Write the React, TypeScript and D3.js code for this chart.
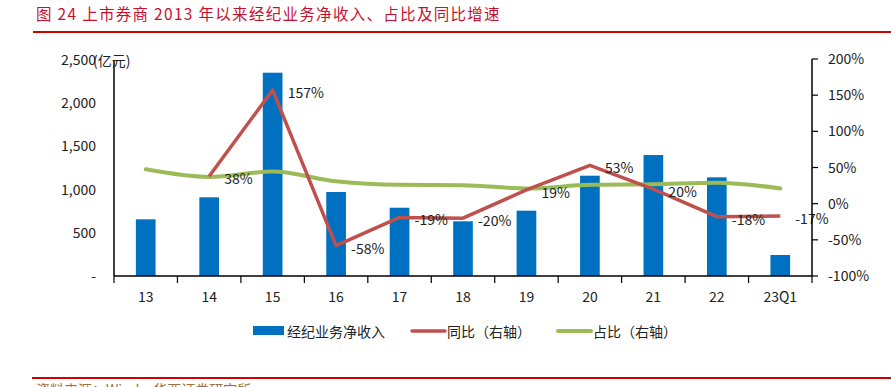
import * as d3 from 'd3'

const W = 891
const H = 387
const FONT = '"Noto Sans CJK SC", "Noto Sans", sans-serif'

// Data
const categories = ['13', '14', '15', '16', '17', '18', '19', '20', '21', '22', '23Q1']
const income = [656, 911, 2353, 972, 790, 633, 756, 1161, 1400, 1142, 243]
const yoy: (number | null)[] = [null, 38, 157, -58, -19, -20, 19, 53, 20, -18, -17]
const share = [47.5, 37, 44.5, 31, 26, 25.5, 21, 26, 27, 29, 21]
const leftTicks = [0, 500, 1000, 1500, 2000, 2500]
const rightTicks = [-100, -50, 0, 50, 100, 150, 200]

const M = { left: 114, right: 812, top: 60, bottom: 276 }

export default function App() {
  const x = d3.scaleBand<string>()
    .domain(categories)
    .range([M.left, M.right])
    .paddingInner(0.69)
    .paddingOuter(0.345)
  const band = (M.right - M.left) / categories.length
  const cx = (c: string) => (x(c) ?? 0) + x.bandwidth() / 2

  const yL = d3.scaleLinear().domain([0, 2500]).range([M.bottom, M.top])
  const yR = d3.scaleLinear().domain([-100, 200]).range([M.bottom, M.top - 1])

  const yoyPts = categories
    .map((c, i) => ({ c, v: yoy[i] }))
    .filter(d => d.v != null) as { c: string; v: number }[]

  const yoyLine = d3.line<{ c: string; v: number }>()
    .x(d => cx(d.c))
    .y(d => yR(d.v))

  const shareLine = d3.line<number>()
    .x((_, i) => cx(categories[i]))
    .y(d => yR(d))
    .curve(d3.curveMonotoneX)

  const fmtL = (v: number) => (v === 0 ? '-' : d3.format(',')(v))

  return (
    <svg
      width={W}
      height={H}
      style={{ position: 'absolute', left: 0, top: 0, display: 'block', background: '#fff' }}
      fontFamily={FONT}
    >
      {/* Title + rule */}
      <text x={36} y={20} fontSize={15.5} letterSpacing={1.3} fill="#c8102e">
        图 24 上市券商 2013 年以来经纪业务净收入、占比及同比增速
      </text>
      <rect x={33} y={31} width={W - 33} height={2} fill="#d00000" />

      {/* Bars */}
      {categories.map((c, i) => (
        <rect
          key={c}
          x={x(c)}
          y={yL(income[i])}
          width={x.bandwidth()}
          height={M.bottom - yL(income[i])}
          fill="#0070c0"
        />
      ))}

      {/* Share line (right axis) */}
      <path d={shareLine(share) ?? ''} fill="none" stroke="#9bbb59" strokeWidth={4} strokeLinecap="round" />

      {/* YoY line (right axis) */}
      <path d={yoyLine(yoyPts) ?? ''} fill="none" stroke="#c0504d" strokeWidth={3.5} strokeLinejoin="round" />

      {/* YoY labels */}
      {yoyPts.map(d => (
        <text key={d.c} x={cx(d.c) + 15} y={yR(d.v) + 8} fontSize={14} fill="#222">
          {d.v}%
        </text>
      ))}

      {/* Left axis */}
      <line x1={M.left} x2={M.left} y1={M.top} y2={M.bottom} stroke="#000" strokeWidth={1.5} />
      {leftTicks.map(t => (
        <text key={t} x={96} y={yL(t) + 5} fontSize={14} textAnchor="end" fill="#222">
          {fmtL(t)}
        </text>
      ))}
      <text x={93} y={66} fontSize={14} fill="#222">(亿元)</text>

      {/* Right axis */}
      <line x1={M.right} x2={M.right} y1={yR(200)} y2={M.bottom} stroke="#000" strokeWidth={1.5} />
      {rightTicks.map(t => (
        <g key={t}>
          <line x1={M.right} x2={M.right + 6} y1={yR(t)} y2={yR(t)} stroke="#000" strokeWidth={1.2} />
          <text x={828} y={yR(t) + 5} fontSize={14} fill="#222">{t}%</text>
        </g>
      ))}

      {/* X axis */}
      <line x1={M.left} x2={M.right} y1={M.bottom} y2={M.bottom} stroke="#000" strokeWidth={1.5} />
      {d3.range(categories.length + 1).map(i => (
        <line
          key={i}
          x1={M.left + i * band}
          x2={M.left + i * band}
          y1={M.bottom}
          y2={M.bottom + 7}
          stroke="#000"
          strokeWidth={1.2}
        />
      ))}
      {categories.map(c => (
        <text key={c} x={cx(c)} y={302} fontSize={14} textAnchor="middle" fill="#222">
          {c}
        </text>
      ))}

      {/* Legend */}
      <rect x={253} y={326} width={31} height={9} fill="#0070c0" />
      <text x={287} y={337} fontSize={14} fill="#222">经纪业务净收入</text>
      <line x1={412} x2={445} y1={331} y2={331} stroke="#c0504d" strokeWidth={3.5} strokeLinecap="round" />
      <text x={447} y={337} fontSize={14} fill="#222">同比（右轴）</text>
      <line x1={558} x2={591} y1={331} y2={331} stroke="#9bbb59" strokeWidth={4} strokeLinecap="round" />
      <text x={593} y={337} fontSize={14} fill="#222">占比（右轴）</text>

      {/* Footer rule + source (cut off by the frame, as in the reference) */}
      <rect x={32} y={377} width={W - 32} height={2} fill="#d00000" />
      <text x={36} y={395} fontSize={14} fill="#a07040">资料来源：Wind，华西证券研究所</text>
    </svg>
  )
}
